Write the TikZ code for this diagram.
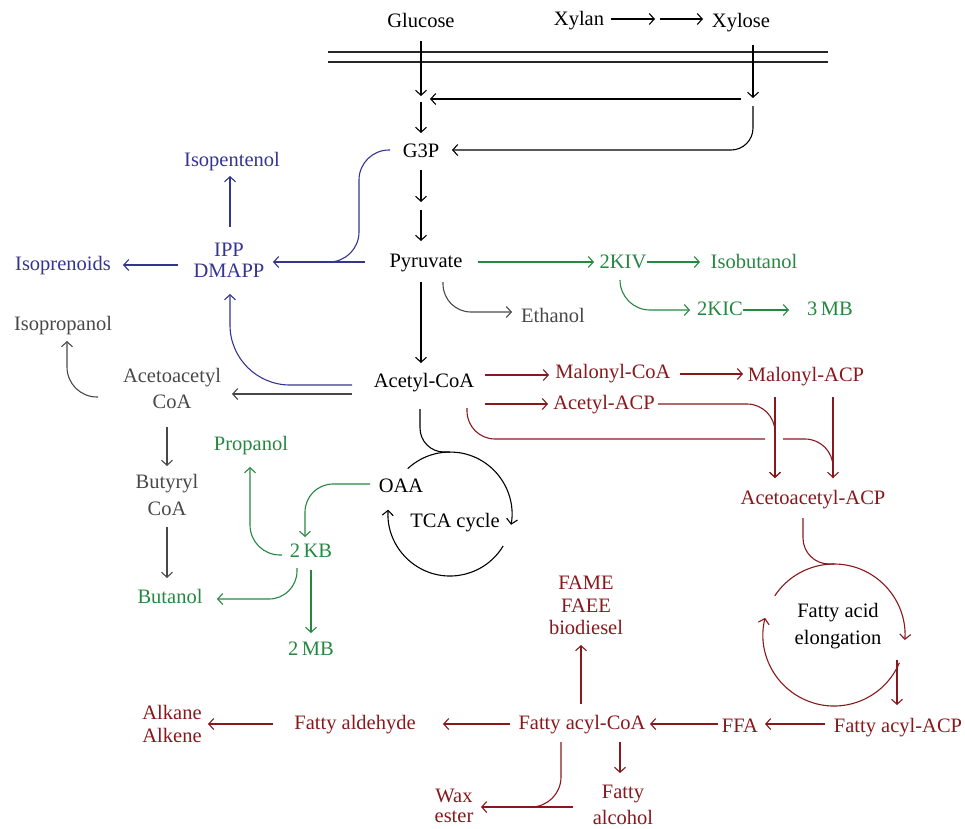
\documentclass[tikz,border=0pt]{standalone}
\usepackage{fontspec}
\setmainfont{Liberation Serif}
\usetikzlibrary{arrows.meta,calc}
\definecolor{cblue}{RGB}{52,52,145}
\definecolor{cgreen}{RGB}{38,135,64}
\definecolor{cred}{RGB}{135,24,28}
\definecolor{cgray}{RGB}{72,72,72}
\begin{document}
\begin{tikzpicture}[x=1pt,y=-1pt,
  every node/.style={font=\fontsize{20.5}{24}\selectfont},
  lbl/.style={anchor=base,inner sep=0pt,text height=14pt,text depth=4pt},
  mlbl/.style={anchor=center,inner sep=0pt,align=center},
  ls/.style={font=\fontsize{20.5}{#1}\selectfont},
  conn/.style={line width=1.1pt},
  arr/.style={conn,-{Straight Barb[length=5pt,width=11pt]}},
  cb/.style={color=cblue},
  cg/.style={color=cgreen},
  cr/.style={color=cred},
  cy/.style={color=cgray}]
\useasboundingbox (0,0) rectangle (965,828);

% ---------- nodes ----------
\node[lbl] (glucose) at (421,27) {Glucose};
\node[lbl] (xylan) at (579,25) {Xylan};
\node[lbl] (xylose) at (741,27) {Xylose};
\node[lbl] (g3p) at (421,157) {G3P};
\node[lbl] (pyr) at (426,267) {Pyruvate};
\node[lbl] (accoa) at (424,387) {Acetyl-CoA};
\node[lbl] (oaa) at (401,492) {OAA};
\node[lbl] (tca) at (455,527) {TCA cycle};
\node[mlbl,ls=27] (fae) at (838,626.5) {Fatty acid\\elongation};

\node[lbl,cb] (isopent) at (232,166) {Isopentenol};
\node[lbl,cb] (isopren) at (63,270) {Isoprenoids};
\node[mlbl,ls=21,cb] (ipp) at (229,260.5) {IPP\\DMAPP};

\node[lbl,cy] (isoprop) at (63,330) {Isopropanol};
\node[mlbl,ls=26,cy] (acac) at (172,388) {Acetoacetyl\\CoA};
\node[mlbl,ls=27,cy] (butyryl) at (167,494.5) {Butyryl\\CoA};
\node[lbl,cy] (ethanol) at (553,322) {Ethanol};

\node[lbl,cg] (kiv) at (623,268) {2KIV};
\node[lbl,cg] (isobut) at (754,268) {Isobutanol};
\node[lbl,cg] (kic) at (720,315) {2KIC};
\node[lbl,cg] (mb3) at (830,315) {3\,MB};
\node[lbl,cg] (propanol) at (251,450) {Propanol};
\node[lbl,cg] (kb) at (311,557) {2\,KB};
\node[lbl,cg] (butanol) at (170,603) {Butanol};
\node[lbl,cg] (mb2) at (311,655) {2\,MB};

\node[lbl,cr] (malcoa) at (613,378) {Malonyl-CoA};
\node[lbl,cr] (malacp) at (806,381) {Malonyl-ACP};
\node[lbl,cr] (acacp) at (604,409) {Acetyl-ACP};
\node[lbl,cr] (acetoacp) at (813,504) {Acetoacetyl-ACP};
\node[lbl,cr] (facp) at (898,732) {Fatty acyl-ACP};
\node[lbl,cr] (ffa) at (740,732) {FFA};
\node[lbl,cr] (facoa) at (582,729) {Fatty acyl-CoA};
\node[lbl,cr] (fald) at (355,729) {Fatty aldehyde};
\node[mlbl,ls=23,cr] (alk) at (172,723.5) {Alkane\\Alkene};
\node[mlbl,ls=20,cr] (wax) at (454,805.5) {Wax\\ester};
\node[mlbl,ls=26,cr] (falc) at (623,805) {Fatty\\alcohol};
\node[mlbl,ls=22.5,cr] (fame) at (586,605.5) {FAME\\FAEE\\biodiesel};

% ---------- junctions ----------
\coordinate (xmid) at (657,19);
\coordinate (jg) at (421,99);
\coordinate (jx) at (753,99);
\coordinate (jp) at (421,206);
\coordinate (tcac) at (450,514);
\coordinate (faec) at (834,635);
\coordinate (m1l) at (328,52); \coordinate (m1r) at (828,52);
\coordinate (m2l) at (328,62); \coordinate (m2r) at (828,62);

% ---------- black ----------
\draw[line width=1.2pt,color=black!85] (m1l) -- (m1r) (m2l) -- (m2r);
\draw[arr] ($(xylan)+(32,-1)$) -- ($(xmid)+(-2,0)$);
\draw[arr] ($(xmid)+(3,0)$) -- ($(xylose)+(-38,-3)$);
\draw[arr] ($(glucose)+(0,19)$) -- ($(jg)+(0,-3)$);
\draw[arr] ($(xylose)+(12,23)$) -- ($(jx)+(0,-1)$);
\draw[arr] ($(jx)+(-12,0)$) -- ($(jg)+(9,0)$);
\draw[arr] ($(jg)+(0,3)$) -- ($(g3p)+(0,-19)$);
\draw[arr,rounded corners=22] ($(jx)+(0,7)$) -- (753,150) -- ($(g3p)+(31,-2)$);
\draw[arr] ($(g3p)+(0,18)$) -- ($(jp)+(0,-4)$);
\draw[arr] ($(jp)+(0,4)$) -- ($(pyr)+(-5,-21)$);
\draw[arr] ($(pyr)+(-5,20)$) -- ($(accoa)+(-3,-19)$);
\draw[conn,rounded corners=24] ($(accoa)+(-4,27)$) -- (420,452) -- ($(tcac)+(0,-62)$);
\begin{scope}[x=1pt,y=1pt]
  \draw[arr] ([shift={(133:62)}]tcac) arc[start angle=133,end angle=-10,radius=62];
  \draw[arr] ([shift={(-31:62)}]tcac) arc[start angle=-31,end angle=-184,radius=62];
  \draw[arr,cr] ([shift={(146.5:71)}]faec) arc[start angle=146.5,end angle=-4,radius=71];
  \draw[arr,cr] ([shift={(-23:71)}]faec) arc[start angle=-23,end angle=-194,radius=71];
\end{scope}

% ---------- gray ----------
\draw[arr,cy,rounded corners=28] ($(pyr)+(17,20)$) -- (443,312) -- ($(ethanol)+(-41,-5)$);
\draw[arr,cy] ($(accoa)+(-72,12)$) -- ($(acac)+(60,6)$);
\draw[arr,cy,rounded corners=30] ($(acac)+(-74,9)$) -- (67,397) -- ($(isoprop)+(4,16)$);
\draw[arr,cy] ($(acac)+(-5,39)$) -- ($(butyryl)+(0,-28.5)$);
\draw[arr,cy] ($(butyryl)+(0,32.5)$) -- ($(butanol)+(-3,-20)$);

% ---------- blue ----------
\draw[arr,cb] ($(ipp)+(1,-34)$) -- ($(isopent)+(-2,15)$);
\draw[arr,cb] ($(ipp)+(-51,4.5)$) -- ($(isopren)+(60,0)$);
\draw[arr,cb] ($(pyr)+(-61,0)$) -- ($(ipp)+(44,1.5)$);
\draw[conn,cb,rounded corners=30] ($(g3p)+(-31,-2)$) -- (359,150) -- (359,262) -- ($(ipp)+(71,1.5)$);
\draw[arr,cb,rounded corners=60] ($(accoa)+(-72,3)$) -- (230,385) -- ($(ipp)+(1,33.5)$);

% ---------- green ----------
\draw[arr,cg] ($(pyr)+(52,0)$) -- ($(kiv)+(-29,-1)$);
\draw[arr,cg] ($(kiv)+(24,-1)$) -- ($(isobut)+(-54,-1)$);
\draw[arr,cg,rounded corners=30] ($(kiv)+(-3,17)$) -- (620,310) -- ($(kic)+(-30,0)$);
\draw[arr,cg] ($(kic)+(23,0)$) -- ($(mb3)+(-41,0)$);
\draw[arr,cg,rounded corners=28] ($(oaa)+(-31,-3)$) -- (305,484) -- ($(kb)+(-6,-15)$);
\draw[arr,cg,rounded corners=30] ($(kb)+(-29,3)$) -- (250,555) -- ($(propanol)+(-1,22)$);
\draw[arr,cg,rounded corners=28] ($(kb)+(-14,16)$) -- (297,599) -- ($(butanol)+(47,1)$);
\draw[arr,cg] ($(kb)+(0,18)$) -- ($(mb2)+(0,-17)$);

% ---------- red ----------
\draw[arr,cr] ($(accoa)+(61,-7)$) -- ($(malcoa)+(-64,2)$);
\draw[arr,cr] ($(malcoa)+(67,1)$) -- ($(malacp)+(-63,-2)$);
\draw[arr,cr] ($(accoa)+(61,22)$) -- ($(acacp)+(-56,0)$);
\draw[arr,cr,rounded corners=28] ($(acacp)+(54,0)$) -- (775,404) -- ($(acetoacp)+(-38,-21)$);
\draw[arr,cr] ($(malacp)+(-31,21)$) -- ($(acetoacp)+(-38,-21)$);
\draw[arr,cr] ($(malacp)+(27,21)$) -- ($(acetoacp)+(20,-21)$);
\draw[conn,cr,rounded corners=28] ($(accoa)+(43,26)$) -- (467,439) -- (765,439);
\draw[conn,cr,rounded corners=28] (783,439) -- (833,439) -- ($(acetoacp)+(20,-21)$);
\draw[conn,cr,rounded corners=26] ($(acetoacp)+(-10,19)$) -- (803,564) -- ($(faec)+(0,-71)$);
\draw[arr,cr] ($(faec)+(63,25)$) -- ($(facp)+(-1,-22)$);
\draw[arr,cr] ($(facp)+(-73,-3)$) -- ($(ffa)+(25,-3)$);
\draw[arr,cr] ($(ffa)+(-22,-3)$) -- ($(facoa)+(68,0)$);
\draw[arr,cr] ($(facoa)+(-1,-20)$) -- ($(fame)+(-5,39.5)$);
\draw[arr,cr] ($(facoa)+(-72,0)$) -- ($(fald)+(88,0)$);
\draw[arr,cr] ($(fald)+(-82,0)$) -- ($(alk)+(36,0.5)$);
\draw[arr,cr] ($(facoa)+(38,18)$) -- ($(falc)+(-3,-32)$);
\draw[arr,cr] ($(falc)+(-50,2)$) -- ($(wax)+(27,1.5)$);
\draw[conn,cr,rounded corners=30] ($(facoa)+(-21,18)$) -- (561,807) -- (525,807);
\end{tikzpicture}
\end{document}
